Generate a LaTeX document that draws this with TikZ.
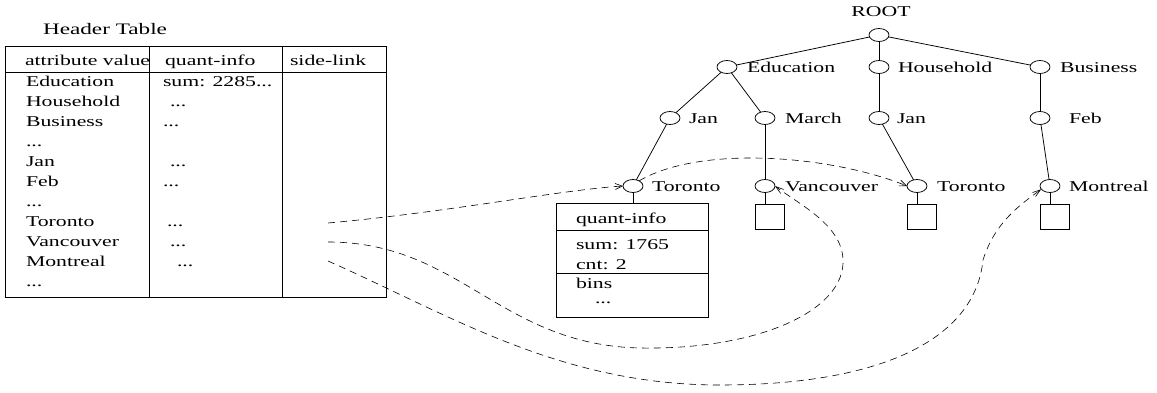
\documentclass[tikz,border=0pt]{standalone}
\usepackage{fontspec}
\setmainfont{Liberation Serif}[FakeStretch=1.45]
\usetikzlibrary{shapes.geometric,arrows.meta}
\begin{document}
\begin{tikzpicture}[x=1pt,y=-1pt,
  every node/.style={inner sep=0pt, outer sep=0pt, font=\fontsize{15pt}{18pt}\selectfont},
  txt/.style={anchor=base west},
  tn/.style={draw, ellipse, minimum width=20pt, minimum height=13pt, line width=0.75pt},
  sq/.style={draw, rectangle, minimum width=29pt, minimum height=25pt, line width=0.85pt},
  edge/.style={line width=0.75pt},
  frame/.style={line width=0.9pt},
  link/.style={dash pattern=on 7pt off 5pt, line width=0.6pt, -{Straight Barb[length=7pt,width=6pt]}},
  link2/.style={link, -{Straight Barb[length=8pt,width=5pt]}},
]
\useasboundingbox (0,0) rectangle (1157,393);

% ---------- Header table ----------
\node[txt, font=\fontsize{16pt}{19pt}\selectfont] (title) at (43,35) {Header Table};
\draw[frame] (5,46) rectangle (386,297);
\draw[frame] (5,72) -- (386,72);
\draw[frame] (149,46) -- (149,297);
\draw[frame] (282,46) -- (282,297);

\node[txt] (hA) at (25,66) {attribute value};
\node[txt] (hQ) at (165,66) {quant-info};
\node[txt] (hS) at (290,66) {side-link};

\node[txt] (a1) at (26,86.5) {Education};
\node[txt] (a2) at (26,106.5) {Household};
\node[txt] (a3) at (26,126.5) {Business};
\node[txt] (a4) at (26,146.5) {...};
\node[txt] (a5) at (26,166.5) {Jan};
\node[txt] (a6) at (26,186.5) {Feb};
\node[txt] (a7) at (26,206.5) {...};
\node[txt] (a8) at (26,226.5) {Toronto};
\node[txt] (a9) at (26,246.5) {Vancouver};
\node[txt] (a10) at (26,266.5) {Montreal};
\node[txt] (a11) at (26,286.5) {...};

\node[txt] (q1) at (163,86.5) {sum: 2285...};
\node[txt] (q2) at (170,106.5) {...};
\node[txt] (q3) at (163,126.5) {...};
\node[txt] (q5) at (170,166.5) {...};
\node[txt] (q6) at (163,186.5) {...};
\node[txt] (q8) at (167,226.5) {...};
\node[txt] (q9) at (170,246.5) {...};
\node[txt] (q10) at (177,266.5) {...};

\coordinate (sl1) at (328,223);
\coordinate (sl2) at (328,242);
\coordinate (sl3) at (328,261);

% ---------- Tree ----------
\node[tn] (root) at (879,35) {};
\node[anchor=base] (troot) at (881,17) {ROOT};

\node[tn] (edu) at (727,67) {};
\node[tn] (hh) at (879,67) {};
\node[tn] (bus) at (1040,67) {};
\node[tn] (jan1) at (670,118) {};
\node[tn] (mar) at (765,118) {};
\node[tn] (jan2) at (879,118) {};
\node[tn] (feb) at (1040,118) {};
\node[tn] (tor1) at (633,186) {};
\node[tn] (van) at (765,186) {};
\node[tn] (tor2) at (917,186) {};
\node[tn] (mon) at (1050,186) {};

\node[txt] (ledu) at (747,73) {Education};
\node[txt] (lhh) at (898,73) {Household};
\node[txt] (lbus) at (1060,73) {Business};
\node[txt] (ljan1) at (689,124) {Jan};
\node[txt] (lmar) at (785,124) {March};
\node[txt] (ljan2) at (897,124) {Jan};
\node[txt] (lfeb) at (1069,124) {Feb};
\node[txt] (ltor1) at (652,192) {Toronto};
\node[txt] (lvan) at (785,192) {Vancouver};
\node[txt] (ltor2) at (937,192) {Toronto};
\node[txt] (lmon) at (1069,192) {Montreal};

\draw[edge] (root) -- (edu);
\draw[edge] (root) -- (hh);
\draw[edge] (root) -- (bus);
\draw[edge] (edu) -- (jan1);
\draw[edge] (edu) -- (mar);
\draw[edge] (hh) -- (jan2);
\draw[edge] (bus) -- (feb);
\draw[edge] (jan1) -- (tor1);
\draw[edge] (mar) -- (van);
\draw[edge] (jan2) -- (tor2);
\draw[edge] (feb) -- (mon);

% leaf squares
\node[sq] (sqv) at (769.5,216.5) {};
\node[sq] (sqt) at (921.5,216.5) {};
\node[sq] (sqm) at (1054.5,216.5) {};
\draw[edge] (van.south) -- (van.south |- sqv.north);
\draw[edge] (tor2.south) -- (tor2.south |- sqt.north);
\draw[edge] (mon.south) -- (mon.south |- sqm.north);

% quant-info box
\node[draw, frame, rectangle, minimum width=152pt, minimum height=114pt, anchor=north west] (qbox) at (556,203) {};
\draw[frame] (556,230) -- (708,230);
\draw[frame] (556,273) -- (708,273);
\draw[edge] (tor1.south) -- (tor1.south |- qbox.north);
\node[txt] (qi) at (576,223) {quant-info};
\node[txt] (qs) at (576,249) {sum: 1765};
\node[txt] (qc) at (576,269) {cnt: 2};
\node[txt] (qb) at (576,288) {bins};
\node[txt] (qd) at (595,303) {...};

% ---------- side links ----------
\draw[link] (sl1) .. controls (450,212) and (560,190) .. (tor1.west);
\draw[link] (tor1.40) .. controls (700,145) and (830,155) .. (tor2.west);
\draw[link2] (sl2) .. controls (460,242) and (500,345) .. (640,348)
  .. controls (760,350) and (845,310) .. (843,260)
  .. controls (842,225) and (800,205) .. (van.east);
\draw[link2] (sl3) .. controls (450,315) and (560,385) .. (720,385)
  .. controls (880,385) and (975,340) .. (983,260)
  .. controls (995,222) and (1020,205) .. (mon.200);
\end{tikzpicture}
\end{document}
